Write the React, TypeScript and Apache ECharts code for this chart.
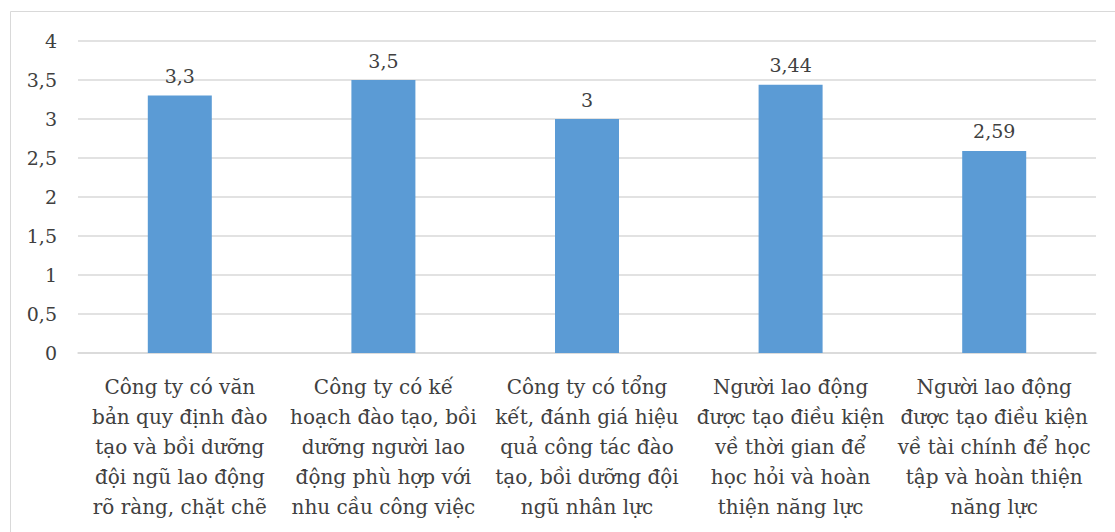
import React, { useEffect, useRef } from "react";
import * as echarts from "echarts";

const categories = [
  "Công ty có văn\nbản quy định đào\ntạo và bồi dưỡng\nđội ngũ lao động\nrõ ràng, chặt chẽ",
  "Công ty có kế\nhoạch đào tạo, bồi\ndưỡng người lao\nđộng phù hợp với\nnhu cầu công việc",
  "Công ty có tổng\nkết, đánh giá hiệu\nquả công tác đào\ntạo, bồi dưỡng đội\nngũ nhân lực",
  "Người lao động\nđược tạo điều kiện\nvề thời gian để\nhọc hỏi và hoàn\nthiện năng lực",
  "Người lao động\nđược tạo điều kiện\nvề tài chính để học\ntập và hoàn thiện\nnăng lực",
];
const values = [3.3, 3.5, 3, 3.44, 2.59];

const fmt = (v: number) => String(v).replace(".", ",");
const FONT = "DejaVu Serif";

export default function App() {
  const ref = useRef<HTMLDivElement>(null);
  useEffect(() => {
    if (!ref.current) return;
    const chart = echarts.init(ref.current, undefined, { renderer: "svg" });
    chart.setOption({
      animation: false,
      backgroundColor: "#ffffff",
      textStyle: { fontFamily: FONT },
      graphic: [
        {
          type: "rect",
          shape: { x: 10.5, y: 11.5, width: 1200, height: 600 },
          style: { fill: "none", stroke: "#D9D9D9", lineWidth: 1 },
          silent: true,
        },
      ],
      grid: { left: 78, right: 19, top: 41, bottom: 179, containLabel: false },
      xAxis: {
        type: "category",
        data: categories,
        axisLine: { show: true, lineStyle: { color: "#D9D9D9", width: 1.5 } },
        axisTick: { show: false },
        axisLabel: {
          interval: 0,
          color: "#404040",
          fontFamily: FONT,
          fontSize: 20,
          lineHeight: 30,
          margin: 19,
          align: "center",
        },
      },
      yAxis: {
        type: "value",
        min: 0,
        max: 4,
        interval: 0.5,
        axisLine: { show: false },
        axisTick: { show: false },
        splitLine: { lineStyle: { color: "#D9D9D9", width: 1.5 } },
        axisLabel: {
          color: "#404040",
          fontFamily: FONT,
          fontSize: 19,
          margin: 21,
          formatter: (v: number) => fmt(v),
        },
      },
      series: [
        {
          type: "bar",
          data: values,
          barWidth: 64,
          itemStyle: { color: "#5B9BD5" },
          label: {
            show: true,
            position: "top",
            distance: 10,
            color: "#404040",
            fontFamily: FONT,
            fontSize: 19,
            formatter: (p: any) => fmt(p.value),
          },
        },
      ],
    });
    return () => chart.dispose();
  }, []);
  return (
    <div
      ref={ref}
      style={{ position: "absolute", left: 0, top: 0, width: 1115, height: 532 }}
    />
  );
}
